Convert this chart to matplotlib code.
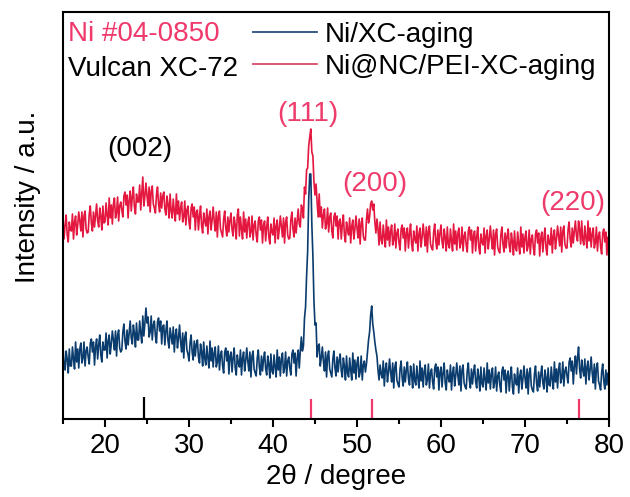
import numpy as np
import matplotlib
matplotlib.use("Agg")
import matplotlib.pyplot as plt
from matplotlib.lines import Line2D

plt.rcParams['font.family'] = ['Liberation Sans', 'DejaVu Sans']

# 2theta grid (degrees), 0.125 deg step from 15 to 80
two_theta = np.arange(15, 80.001, 0.125)

# Ni@NC/PEI-XC-aging (upper, red) - intensity (a.u., offset), 8 points per degree
red_int = [
    201, 181, 195, 205, 185, 178, 198, 190,  # 15
    189, 206, 181, 198, 204, 185, 195, 208,  # 16
    199, 189, 208, 183, 204, 209, 191, 187,  # 17
    188, 206, 214, 197, 189, 208, 193, 205,  # 18
    216, 199, 193, 212, 204, 190, 214, 197,  # 19
    198, 217, 205, 195, 222, 202, 215, 196,  # 20
    216, 222, 202, 207, 223, 199, 214, 218,  # 21
    210, 203, 224, 228, 215, 225, 202, 220,  # 22
    229, 209, 223, 233, 213, 206, 226, 218,  # 23
    218, 235, 210, 227, 243, 214, 224, 237,  # 24
    224, 214, 233, 208, 229, 234, 216, 212,  # 25
    207, 225, 233, 216, 208, 227, 212, 224,  # 26
    228, 211, 205, 224, 216, 202, 226, 209,  # 27
    202, 221, 209, 199, 226, 206, 219, 200,  # 28
    212, 218, 198, 203, 219, 195, 210, 214,  # 29
    198, 191, 212, 216, 203, 213, 190, 208,  # 30
    210, 190, 204, 214, 194, 187, 207, 199,  # 31
    194, 211, 186, 203, 209, 190, 200, 213,  # 32
    199, 189, 208, 183, 204, 209, 191, 187,  # 33
    183, 201, 209, 192, 184, 203, 188, 200,  # 34
    207, 190, 184, 203, 195, 181, 205, 211,  # 35
    184, 203, 191, 181, 208, 188, 201, 182,  # 36
    197, 203, 183, 188, 204, 180, 195, 199,  # 37
    185, 178, 199, 203, 190, 200, 177, 195,  # 38
    199, 179, 193, 203, 183, 176, 196, 188,  # 39
    185, 202, 177, 194, 200, 181, 191, 204,  # 40
    193, 183, 202, 177, 198, 203, 185, 181,  # 41
    182, 200, 208, 191, 183, 202, 187, 199,  # 42
    211, 196, 193, 215, 211, 202, 233, 226,  # 43
    250, 252, 274, 283, 291, 268, 264, 238,  # 44
    225, 236, 218, 203, 226, 203, 213, 192,  # 45
    205, 211, 191, 196, 212, 188, 203, 207,  # 46
    189, 182, 203, 207, 194, 204, 181, 199,  # 47
    201, 181, 195, 205, 185, 178, 198, 190,  # 48
    185, 202, 177, 194, 200, 181, 191, 204,  # 49
    192, 182, 201, 176, 197, 202, 184, 180,  # 50
    180, 200, 211, 197, 203, 216, 219, 210,  # 51
    216, 198, 187, 201, 191, 175, 198, 180,  # 52
    176, 195, 183, 173, 200, 180, 193, 174,  # 53
    189, 195, 175, 180, 196, 172, 187, 191,  # 54
    177, 170, 191, 195, 182, 192, 169, 187,  # 55
    192, 172, 186, 196, 176, 169, 189, 181,  # 56
    177, 194, 169, 186, 192, 173, 183, 196,  # 57
    184, 174, 193, 168, 189, 194, 176, 172,  # 58
    170, 188, 196, 179, 171, 190, 175, 187,  # 59
    195, 178, 172, 191, 183, 169, 193, 176,  # 60
    172, 191, 179, 169, 196, 176, 189, 170,  # 61
    186, 192, 172, 177, 193, 169, 184, 188,  # 62
    175, 168, 189, 193, 180, 190, 167, 185,  # 63
    189, 169, 183, 193, 173, 166, 186, 178,  # 64
    175, 192, 167, 184, 190, 171, 181, 194,  # 65
    181, 171, 190, 165, 186, 191, 173, 169,  # 66
    167, 185, 193, 176, 168, 187, 172, 184,  # 67
    191, 174, 168, 187, 179, 165, 189, 172,  # 68
    169, 188, 176, 166, 193, 173, 186, 167,  # 69
    183, 189, 169, 174, 190, 166, 181, 185,  # 70
    172, 165, 186, 190, 177, 187, 164, 182,  # 71
    188, 168, 182, 192, 172, 165, 185, 177,  # 72
    175, 192, 167, 184, 190, 171, 181, 194,  # 73
    184, 174, 193, 168, 189, 194, 176, 172,  # 74
    172, 190, 198, 181, 173, 192, 177, 189,  # 75
    199, 184, 179, 199, 191, 176, 199, 180,  # 76
    175, 194, 182, 172, 199, 179, 192, 173,  # 77
    186, 192, 172, 177, 193, 169, 184, 188,  # 78
    173, 166, 187, 191, 178, 188, 165, 183,  # 79
    180,                                     # 80
]

# Ni/XC-aging (lower, blue) - intensity (a.u., offset), 8 points per degree
blue_int = [
    73, 56, 50, 69, 61, 47, 71, 54,      # 15
    54, 73, 61, 51, 78, 58, 71, 52,      # 16
    71, 77, 57, 62, 78, 54, 69, 73,      # 17
    63, 56, 77, 81, 68, 78, 55, 73,      # 18
    81, 61, 75, 85, 65, 58, 78, 70,      # 19
    70, 87, 62, 79, 85, 66, 76, 89,      # 20
    80, 70, 89, 64, 85, 90, 72, 68,      # 21
    70, 88, 96, 79, 71, 90, 75, 87,      # 22
    99, 82, 76, 95, 87, 73, 97, 80,      # 23
    80, 99, 87, 77, 104, 84, 97, 112,    # 24
    97, 103, 83, 88, 104, 80, 95, 99,    # 25
    84, 77, 98, 102, 89, 99, 76, 94,     # 26
    95, 75, 89, 99, 79, 72, 92, 84,      # 27
    76, 93, 68, 85, 91, 72, 82, 95,      # 28
    78, 68, 87, 62, 83, 88, 70, 66,      # 29
    59, 77, 85, 68, 60, 79, 64, 76,      # 30
    80, 63, 57, 76, 68, 54, 78, 61,      # 31
    55, 74, 62, 52, 79, 59, 72, 53,      # 32
    67, 73, 53, 58, 74, 50, 65, 69,      # 33
    54, 47, 68, 72, 59, 69, 46, 64,      # 34
    68, 48, 62, 72, 52, 45, 65, 57,      # 35
    53, 70, 45, 62, 68, 49, 59, 72,      # 36
    59, 49, 68, 43, 64, 69, 51, 47,      # 37
    44, 62, 70, 53, 45, 64, 49, 61,      # 38
    68, 51, 45, 64, 56, 42, 66, 49,      # 39
    46, 65, 53, 43, 70, 50, 63, 44,      # 40
    61, 67, 47, 52, 68, 44, 59, 63,      # 41
    52, 45, 66, 70, 57, 67, 44, 62,      # 42
    70, 52, 69, 83, 69, 74, 102, 113,    # 43
    144, 169, 220, 246, 246, 195, 164, 119,  # 44
    95, 97, 63, 74, 76, 54, 62, 73,      # 45
    59, 49, 68, 43, 64, 69, 51, 47,      # 46
    43, 61, 69, 52, 44, 63, 48, 60,      # 47
    66, 49, 43, 62, 54, 40, 64, 47,      # 48
    43, 62, 50, 40, 67, 47, 60, 41,      # 49
    57, 63, 43, 48, 64, 40, 55, 59,      # 50
    48, 56, 68, 80, 88, 105, 114, 96,    # 51
    88, 78, 70, 64, 50, 40, 55, 46,      # 52
    42, 59, 34, 51, 57, 38, 48, 61,      # 53
    48, 38, 57, 32, 53, 58, 40, 36,      # 54
    33, 51, 59, 42, 34, 53, 38, 50,      # 55
    58, 41, 35, 54, 46, 32, 56, 39,      # 56
    35, 54, 42, 32, 59, 39, 52, 33,      # 57
    49, 55, 35, 40, 56, 32, 47, 51,      # 58
    38, 31, 52, 56, 43, 53, 30, 48,      # 59
    53, 33, 47, 57, 37, 30, 50, 42,      # 60
    38, 55, 30, 47, 53, 34, 44, 57,      # 61
    45, 35, 54, 29, 50, 55, 37, 33,      # 62
    31, 49, 57, 40, 32, 51, 36, 48,      # 63
    55, 38, 32, 51, 43, 29, 53, 36,      # 64
    33, 52, 40, 30, 57, 37, 50, 31,      # 65
    46, 52, 32, 37, 53, 29, 44, 48,      # 66
    35, 28, 49, 53, 40, 50, 27, 45,      # 67
    49, 29, 43, 53, 33, 26, 46, 38,      # 68
    35, 52, 27, 44, 50, 31, 41, 54,      # 69
    42, 32, 51, 26, 47, 52, 34, 30,      # 70
    28, 46, 54, 37, 29, 48, 33, 45,      # 71
    54, 37, 31, 50, 42, 28, 52, 35,      # 72
    34, 53, 41, 31, 58, 38, 51, 32,      # 73
    51, 57, 37, 42, 58, 34, 49, 53,      # 74
    44, 37, 58, 62, 49, 59, 36, 54,      # 75
    64, 46, 62, 73, 51, 42, 60, 50,      # 76
    44, 61, 36, 53, 59, 40, 50, 63,      # 77
    47, 37, 56, 31, 52, 57, 39, 35,      # 78
    30, 48, 56, 39, 31, 50, 35, 47,      # 79
    40,                                  # 80
]

series_labels = ["Ni/XC-aging", "Ni@NC/PEI-XC-aging"]

# reference pattern positions
ref_carbon = [24.7]
ref_ni = [44.5, 51.8, 76.4]

# peak labels
peak_labels = ["(002)", "(111)", "(200)", "(220)"]
peak_x = [24.2, 44.2, 52.1, 75.7]
peak_y = [271, 306, 236, 217]
peak_colors = ["black", "#EE3B6C", "#EE3B6C", "#EE3B6C"]

blue_c = "#0B3C6E"
red_c = "#E3173F"
pink_c = "#F0386B"

fig = plt.figure(figsize=(6.30, 4.97), dpi=100)
ax = fig.add_axes([63/630, 1 - 419/497, 546/630, 407/497])

ax.plot(two_theta, blue_int, color=blue_c, lw=1.2)
ax.plot(two_theta, red_int, color=red_c, lw=1.2)

ax.vlines(ref_carbon, 1, 23, color="black", lw=1.6)
ax.vlines(ref_ni, 1, 21, color=pink_c, lw=1.6)

for lab, x, y, c in zip(peak_labels, peak_x, peak_y, peak_colors):
    ax.text(x, y, lab, color=c, fontsize=20, ha="center", va="center")

ax.set_xlim(15, 80)
ax.set_ylim(1, 408)
ax.set_xticks(np.arange(20, 81, 10))
ax.set_xticks(np.arange(15, 81, 5), minor=True)
ax.set_yticks([])
ax.tick_params(axis="x", which="major", direction="out", length=6, width=1.5,
               labelsize=20, pad=4)
ax.tick_params(axis="x", which="minor", direction="out", length=3.5, width=1.5)
for s in ax.spines.values():
    s.set_linewidth(1.5)

ax.set_xlabel("2θ / degree", fontsize=20, labelpad=4)
ax.set_ylabel("Intensity / a.u.", fontsize=20)
ax.yaxis.set_label_coords(-0.040, 0.545)

# left legend column (text only)
ax.text(5/546, (419-34)/407, "Ni #04-0850", color=pink_c, fontsize=20,
        ha="left", va="center", transform=ax.transAxes)
ax.text(5/546, (419-69)/407, "Vulcan XC-72", color="black", fontsize=20,
        ha="left", va="center", transform=ax.transAxes)

handles = [Line2D([], [], color="#284E80", lw=1.3),
           Line2D([], [], color="#D84B6B", lw=1.3)]
ax.legend(handles, series_labels, loc="upper left",
          bbox_to_anchor=((253-63)/546, (419-22)/407), frameon=False,
          fontsize=20, borderpad=0, borderaxespad=0, handlelength=2.3,
          handletextpad=0.3, labelspacing=0.22)

fig.savefig("out.png", dpi=100)
